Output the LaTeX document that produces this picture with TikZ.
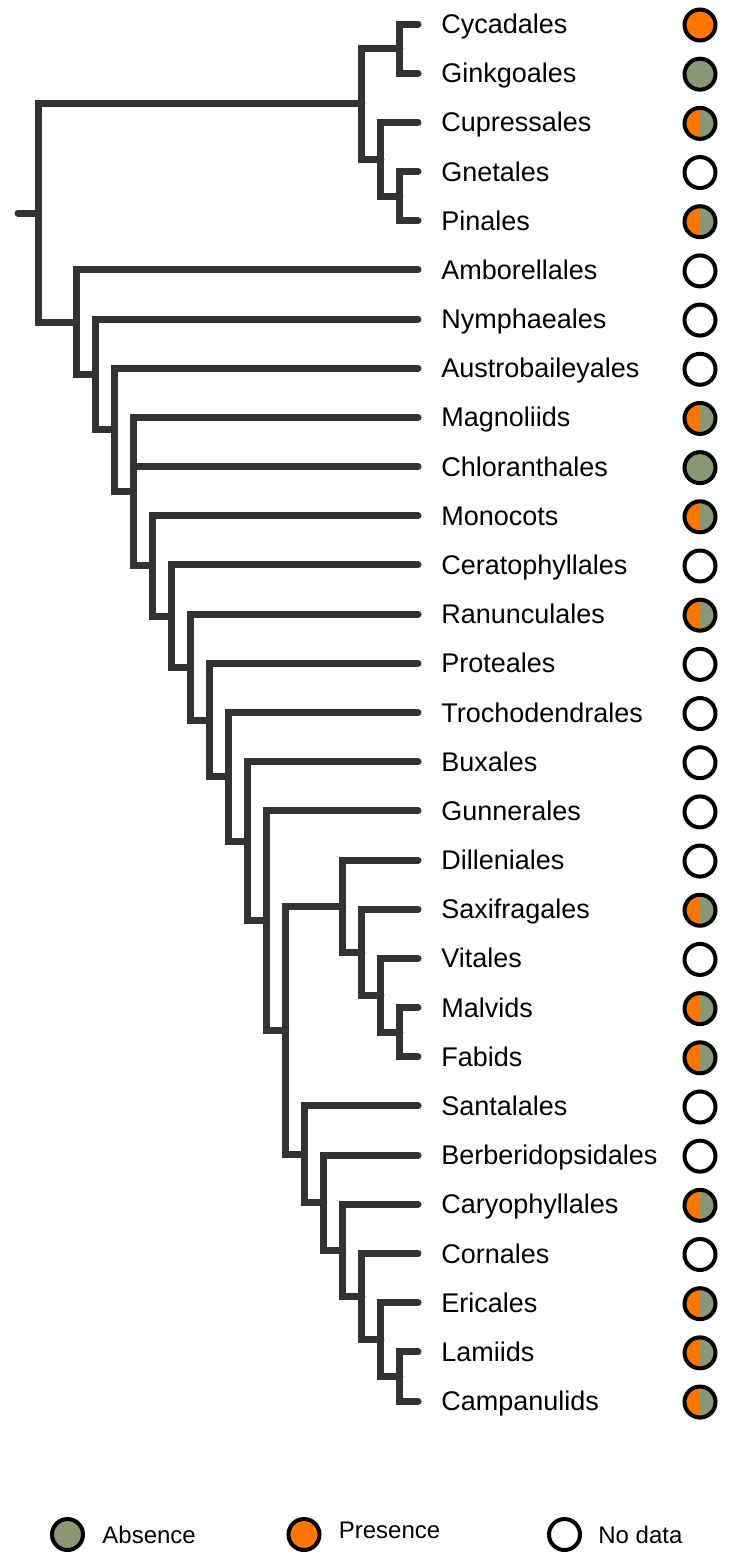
\documentclass[tikz,border=0pt]{standalone}
\usepackage{fontspec}
\setmainfont{Liberation Sans}
\usetikzlibrary{positioning}

\definecolor{treegray}{RGB}{51,51,51}
\definecolor{absgreen}{RGB}{137,151,116}
\definecolor{presorange}{RGB}{255,117,0}

% leaf row -> y, tree depth -> x (in pixels of the figure)
\newcommand{\ty}[1]{24+49.18*(#1)}
\newcommand{\lx}[1]{38+19.05*(#1)}

\tikzset{
  branch/.style={line width=3.5pt,treegray,line cap=round,line join=miter},
  taxon/.style={anchor=base west,inner sep=0pt,font=\fontsize{13.5}{16}\selectfont},
  trait/.style={circle,draw=black,line width=2pt,minimum size=15.5pt,inner sep=0pt},
  absent/.style={trait,fill=absgreen},
  present/.style={trait,fill=presorange},
  nodata/.style={trait,fill=white},
  both/.style={trait,fill=absgreen,
    path picture={\fill[presorange] (path picture bounding box.south west) rectangle (path picture bounding box.north);}},
  legendtext/.style={inner sep=0pt,font=\fontsize{12}{14}\selectfont}
}

\begin{document}
\begin{tikzpicture}[x=0.5pt,y=-0.5pt]
  \fill[white] (0,0) rectangle (729,1563);
  \useasboundingbox (0,0) rectangle (729,1563);

  % taxa, labels and trait states
  \foreach \taxname/\mk [count=\i from 0] in {Cycadales/present,Ginkgoales/absent,Cupressales/both,
      Gnetales/nodata,Pinales/both,Amborellales/nodata,Nymphaeales/nodata,Austrobaileyales/nodata,
      Magnoliids/both,Chloranthales/absent,Monocots/both,Ceratophyllales/nodata,Ranunculales/both,
      Proteales/nodata,Trochodendrales/nodata,Buxales/nodata,Gunnerales/nodata,Dilleniales/nodata,
      Saxifragales/both,Vitales/nodata,Malvids/both,Fabids/both,Santalales/nodata,
      Berberidopsidales/nodata,Caryophyllales/both,Cornales/nodata,Ericales/both,Lamiids/both,
      Campanulids/both} {
    \coordinate (l\i) at (418,{\ty{\i}});
    \node[taxon] (t\i) at (441,{\ty{\i}+9.5}) {\taxname};
    \node[\mk] (m\i) at (700,{\ty{\i}+1}) {};
  }

  % internal nodes
  \coordinate (root) at ({\lx{0}},{\ty{3.844}});
  \coordinate (stem) at (18,{\ty{3.844}});
  \coordinate (gym)  at ({\lx{17}},{\ty{1.625}});
  \coordinate (gymA) at ({\lx{19}},{\ty{0.5}});
  \coordinate (gymB) at ({\lx{18}},{\ty{2.75}});
  \coordinate (gymC) at ({\lx{19}},{\ty{3.5}});
  \coordinate (ang)  at ({\lx{2}},{\ty{6.0637}});
  \coordinate (n1)   at ({\lx{3}},{\ty{7.1274}});
  \coordinate (n2)   at ({\lx{4}},{\ty{8.2548}});
  \coordinate (n3)   at ({\lx{5}},{\ty{9.5096}});
  \coordinate (n4)   at ({\lx{6}},{\ty{11.0192}});
  \coordinate (n5)   at ({\lx{7}},{\ty{12.0385}});
  \coordinate (n6)   at ({\lx{8}},{\ty{13.0769}});
  \coordinate (n7)   at ({\lx{9}},{\ty{14.1538}});
  \coordinate (n8)   at ({\lx{10}},{\ty{15.3076}});
  \coordinate (n9)   at ({\lx{11}},{\ty{16.6152}});
  \coordinate (n10)  at ({\lx{12}},{\ty{18.2305}});
  \coordinate (n11)  at ({\lx{13}},{\ty{20.4609}});
  \coordinate (ros)  at ({\lx{16}},{\ty{17.9375}});
  \coordinate (ros2) at ({\lx{17}},{\ty{18.875}});
  \coordinate (ros3) at ({\lx{18}},{\ty{19.75}});
  \coordinate (ros4) at ({\lx{19}},{\ty{20.5}});
  \coordinate (ast)  at ({\lx{14}},{\ty{22.9844}});
  \coordinate (ast2) at ({\lx{15}},{\ty{23.9688}});
  \coordinate (ast3) at ({\lx{16}},{\ty{24.9375}});
  \coordinate (ast4) at ({\lx{17}},{\ty{25.875}});
  \coordinate (ast5) at ({\lx{18}},{\ty{26.75}});
  \coordinate (ast6) at ({\lx{19}},{\ty{27.5}});

  % branches
  \draw[branch] (stem) -- (root);
  \draw[branch] (gym) -| (root) |- (ang);
  \draw[branch] (gymA) -| (gym) |- (gymB);
  \draw[branch] (l0) -| (gymA) |- (l1);
  \draw[branch] (l2) -| (gymB) |- (gymC);
  \draw[branch] (l3) -| (gymC) |- (l4);
  \draw[branch] (l5) -| (ang) |- (n1);
  \draw[branch] (l6) -| (n1) |- (n2);
  \draw[branch] (l7) -| (n2) |- (n3);
  \draw[branch] (l8) -| (n3) |- (n4);
  \draw[branch] (n3 |- l9) -- (l9);
  \draw[branch] (l10) -| (n4) |- (n5);
  \draw[branch] (l11) -| (n5) |- (n6);
  \draw[branch] (l12) -| (n6) |- (n7);
  \draw[branch] (l13) -| (n7) |- (n8);
  \draw[branch] (l14) -| (n8) |- (n9);
  \draw[branch] (l15) -| (n9) |- (n10);
  \draw[branch] (l16) -| (n10) |- (n11);
  \draw[branch] (ros) -| (n11) |- (ast);
  \draw[branch] (l17) -| (ros) |- (ros2);
  \draw[branch] (l18) -| (ros2) |- (ros3);
  \draw[branch] (l19) -| (ros3) |- (ros4);
  \draw[branch] (l20) -| (ros4) |- (l21);
  \draw[branch] (l22) -| (ast) |- (ast2);
  \draw[branch] (l23) -| (ast2) |- (ast3);
  \draw[branch] (l24) -| (ast3) |- (ast4);
  \draw[branch] (l25) -| (ast4) |- (ast5);
  \draw[branch] (l26) -| (ast5) |- (ast6);
  \draw[branch] (l27) -| (ast6) |- (l28);

  % legend
  \node[absent] (legA) at (67.5,1534.5) {};
  \node[legendtext,right=8.5pt of legA] (legAt) {Absence};
  \node[present] (legP) at (304,1534.5) {};
  \node[legendtext,right=8.5pt of legP,yshift=2pt] (legPt) {Presence};
  \node[nodata] (legN) at (564.5,1534.5) {};
  \node[legendtext,right=8pt of legN] (legNt) {No data};
\end{tikzpicture}
\end{document}
